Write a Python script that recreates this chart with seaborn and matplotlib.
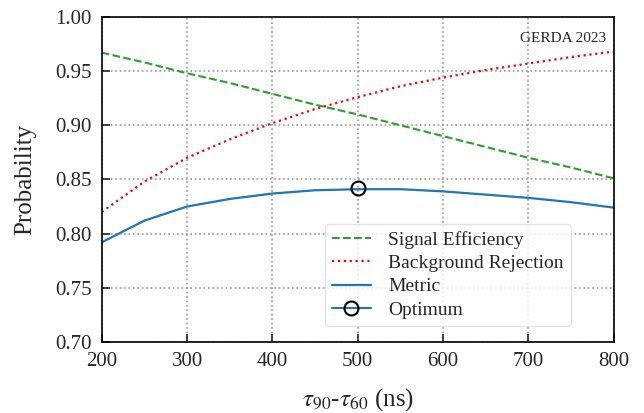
import numpy as np
import pandas as pd
import seaborn as sns
import matplotlib
matplotlib.use("Agg")
import matplotlib.pyplot as plt

# veriler
tau = [200, 250, 300, 350, 400, 450, 500, 550, 600, 650, 700, 750, 800]
signal_eff = [0.967, 0.958, 0.948, 0.939, 0.929, 0.919, 0.910, 0.900, 0.890, 0.880, 0.870, 0.861, 0.851]
bkg_rej = [0.820, 0.848, 0.870, 0.887, 0.902, 0.915, 0.926, 0.936, 0.944, 0.951, 0.957, 0.963, 0.968]
metric = [0.792, 0.812, 0.825, 0.832, 0.837, 0.840, 0.841, 0.841, 0.839, 0.836, 0.833, 0.829, 0.824]
opt_x = [500]
opt_y = [0.842]

sns.set_theme(style="ticks")
plt.rcParams['font.family'] = ['Liberation Serif', 'DejaVu Serif']
plt.rcParams['mathtext.fontset'] = 'stix'

df = pd.DataFrame({"tau": tau, "sig": signal_eff, "bkg": bkg_rej, "metric": metric})

fig = plt.figure(figsize=(6.44, 4.13), dpi=100)
ax = fig.add_axes([0.158, 0.172, 0.795, 0.787])

sns.lineplot(data=df, x="tau", y="sig", ax=ax, color="#2ca02c", linestyle="--", lw=1.5, label="Signal Efficiency")
sns.lineplot(data=df, x="tau", y="bkg", ax=ax, color="red", linestyle=":", lw=1.6, label="Background Rejection")
sns.lineplot(data=df, x="tau", y="metric", ax=ax, color="#1f77b4", lw=1.6, label="Metric")
ax.plot(opt_x, opt_y, marker="o", ms=10, mfc="none", mec="black", mew=1.5, color="#1f77b4", label="Optimum")

ax.set_xlim(200, 800)
ax.set_ylim(0.70, 1.00)
ax.set_xticks(range(200, 801, 100))
ax.set_yticks(np.arange(0.70, 1.001, 0.05))
ax.yaxis.set_major_formatter(matplotlib.ticker.FormatStrFormatter('%.2f'))
ax.tick_params(direction="in", length=6, width=1.2, labelsize=15, pad=7, top=False, right=False)
for s in ax.spines.values():
    s.set_linewidth(1.2)
    s.set_color("black")
ax.grid(True, linestyle=":", color="#999999", lw=1.2)

ax.set_xlabel(r"$\tau_{90}$-$\tau_{60}$ (ns)", fontsize=18, labelpad=11)
ax.set_ylabel("Probability", fontsize=18, labelpad=14)
ax.text(0.985, 0.955, "GERDA 2023", transform=ax.transAxes, ha="right", va="top", fontsize=11)

ax.legend(loc="lower right", bbox_to_anchor=(0.935, 0.02), fontsize=14, frameon=True, fancybox=True,
          framealpha=0.8, edgecolor="#dddddd", handlelength=2.0, borderpad=0.35, labelspacing=0.3,
          handletextpad=0.9)

fig.savefig("out.png", dpi=100)
